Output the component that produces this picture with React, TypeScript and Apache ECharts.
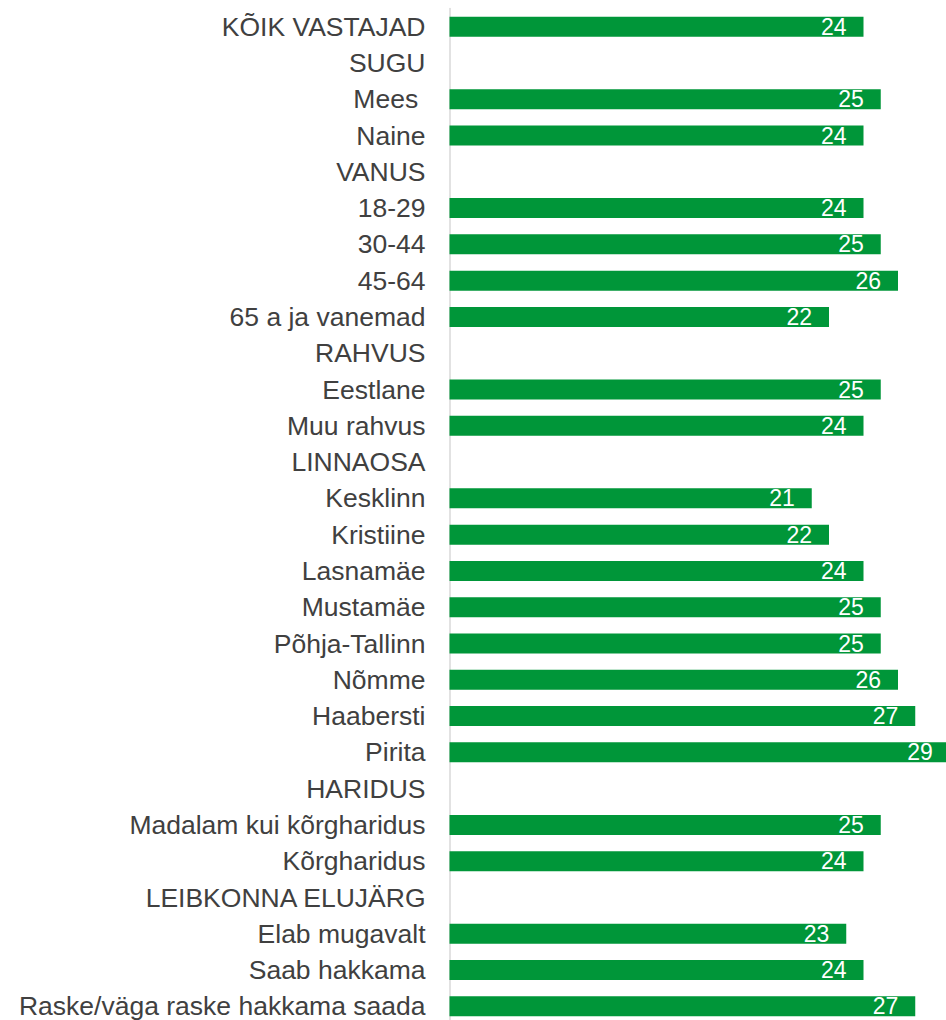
import React, { useEffect, useRef } from "react";
import * as echarts from "echarts";

const categories: string[] = [
  "KÕIK VASTAJAD",
  "SUGU",
  "Mees ",
  "Naine",
  "VANUS",
  "18-29",
  "30-44",
  "45-64",
  "65 a ja vanemad",
  "RAHVUS",
  "Eestlane",
  "Muu rahvus",
  "LINNAOSA",
  "Kesklinn",
  "Kristiine",
  "Lasnamäe",
  "Mustamäe",
  "Põhja-Tallinn",
  "Nõmme",
  "Haabersti",
  "Pirita",
  "HARIDUS",
  "Madalam kui kõrgharidus",
  "Kõrgharidus",
  "LEIBKONNA ELUJÄRG",
  "Elab mugavalt",
  "Saab hakkama",
  "Raske/väga raske hakkama saada",
];

const values: (number | null)[] = [
  24, null, 25, 24, null, 24, 25, 26, 22, null, 25, 24, null, 21, 22, 24, 25, 25,
  26, 27, 29, null, 25, 24, null, 23, 24, 27,
];

export default function App() {
  const ref = useRef<HTMLDivElement>(null);
  useEffect(() => {
    if (!ref.current) return;
    const chart = echarts.init(ref.current, undefined, { renderer: "svg" });
    chart.setOption({
      animation: false,
      backgroundColor: "#ffffff",
      grid: { left: 449.5, right: 0, top: 8.5, height: 1016, containLabel: false },
      xAxis: {
        type: "value",
        min: 0,
        max: 30,
        show: false,
        splitLine: { show: false },
      },
      yAxis: {
        type: "category",
        data: categories,
        inverse: true,
        axisLine: { show: true, lineStyle: { color: "#d9d9d9", width: 1.5 } },
        axisTick: { show: false },
        axisLabel: {
          margin: 24,
          color: "#404040",
          fontSize: 26.5,
          lineHeight: 24,
          fontFamily: "Liberation Sans, Arial, sans-serif",
        },
      },
      series: [
        {
          type: "bar",
          data: values,
          barWidth: 20,
          itemStyle: { color: "#009639" },
          label: {
            show: true,
            position: "insideRight",
            distance: 17,
            color: "#ffffff",
            fontSize: 23,
            fontFamily: "Liberation Sans, Arial, sans-serif",
          },
        },
      ],
    });
    return () => chart.dispose();
  }, []);
  return (
    <div
      style={{
        position: "fixed",
        left: 0,
        top: 0,
        width: 946,
        height: 1020,
        overflow: "hidden",
        background: "#ffffff",
      }}
    >
      <div ref={ref} style={{ width: 967, height: 1030 }} />
    </div>
  );
}
